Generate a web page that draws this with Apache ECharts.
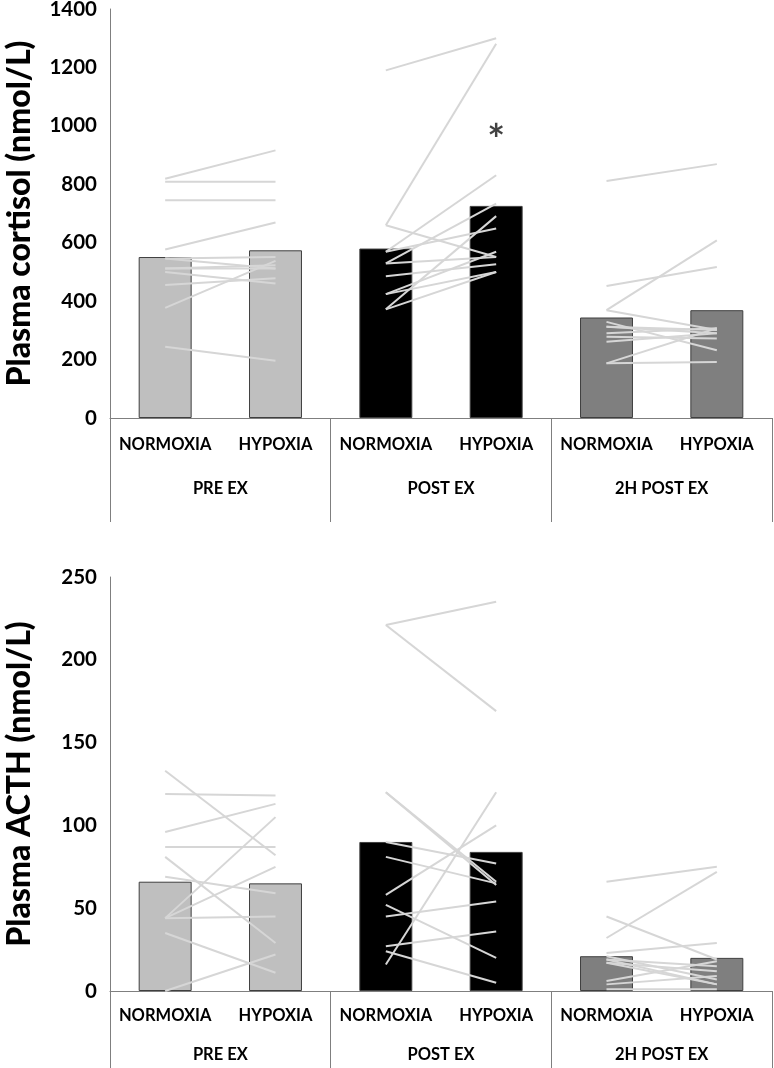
<!DOCTYPE html>
<html>
<head>
<meta charset="utf-8">
<script src="https://cdn.jsdelivr.net/npm/echarts@6/dist/echarts.min.js"></script>
<style>
html,body{margin:0;padding:0;background:#fff;}
#chart{width:774px;height:1068px;}
</style>
</head>
<body>
<div id="chart"></div>
<script>
// ---- data ----
const categories = ['NORMOXIA', 'HYPOXIA', 'NORMOXIA', 'HYPOXIA', 'NORMOXIA', 'HYPOXIA'];
const groups = ['PRE EX', 'POST EX', '2H POST EX'];
const cortisolTicks = [0, 200, 400, 600, 800, 1000, 1200, 1400];
const acthTicks = [0, 50, 100, 150, 200, 250];

const cortisolMeans = [551, 574, 580, 726, 344, 369];
const acthMeans = [66, 65, 90, 84, 21, 20];
const significance = [{ cat: 3, value: 945, text: '*' }];

// individual subjects: normoxia (N) -> hypoxia (H) per time point
const cortisolPreN  = [819, 809, 745, 577, 546, 546, 512, 512, 500, 455, 377, 244];
const cortisolPreH  = [916, 809, 745, 669, 551, 512, 523, 512, 460, 478, 538, 196];
const cortisolPostN = [1190, 660, 660, 569, 569, 529, 529, 485, 424, 424, 372, 372];
const cortisolPostH = [1300, 1281, 551, 831, 649, 734, 551, 526, 569, 500, 691, 500];
const cortisol2hN   = [811, 452, 369, 369, 329, 312, 312, 290, 278, 261, 187, 187];
const cortisol2hH   = [869, 517, 608, 301, 232, 301, 290, 307, 272, 290, 307, 192];

const acthPreN  = [133, 119, 96, 87, 81, 69, 44, 44, 44, 35, 0];
const acthPreH  = [82, 118, 113, 87, 29, 59, 105, 75, 45, 11, 22];
const acthPostN = [221, 221, 120, 120, 90, 81, 58, 52, 45, 27, 24, 16];
const acthPostH = [235, 169, 64, 66, 77, 65, 100, 20, 54, 36, 5, 120];
const acth2hN   = [66, 45, 32, 23, 21, 19, 17, 17, 6, 4, 1, 19];
const acth2hH   = [75, 19, 72, 29, 7, 15, 4, 12, 18, 9, 1, 4];

// ---- styles ----
const FONT = 'Lato';
const groupColors = ['#bfbfbf', '#000000', '#7f7f7f'];
const subjColor = '#d6d6d6';
const axisGrey = '#7f7f7f';

function subjectSeries(gridIdx, sets) {
  const out = [];
  sets.forEach(function (s, g) {
    for (let i = 0; i < s[0].length; i++) {
      out.push({
        type: 'line',
        xAxisIndex: gridIdx * 2,
        yAxisIndex: gridIdx,
        data: [[2 * g, s[0][i]], [2 * g + 1, s[1][i]]],
        symbol: 'none',
        silent: true,
        z: 5,
        lineStyle: { color: subjColor, width: 2 },
        animation: false
      });
    }
  });
  return out;
}

function barSeries(gridIdx, means) {
  return {
    type: 'bar',
    xAxisIndex: gridIdx * 2,
    yAxisIndex: gridIdx,
    barWidth: '48%',
    z: 2,
    data: means.map(function (v, i) {
      return { value: v, itemStyle: { color: groupColors[Math.floor(i / 2)] } };
    }),
    itemStyle: { borderColor: '#3f3f3f', borderWidth: 1 },
    animation: false
  };
}

function xAxes(gridIdx, labelMargin, groupMargin) {
  return [
    {
      type: 'category', gridIndex: gridIdx, data: categories, position: 'bottom',
      axisLine: { show: true, lineStyle: { color: axisGrey, width: 1 } },
      axisTick: { show: false },
      axisLabel: { interval: 0, margin: labelMargin, color: '#000', fontFamily: FONT, fontWeight: 'bold', fontSize: 16.5 },
      splitLine: { show: false }
    },
    {
      type: 'category', gridIndex: gridIdx, data: groups, position: 'bottom',
      axisLine: { show: false },
      axisTick: { show: true, length: 104, lineStyle: { color: axisGrey, width: 1 } },
      axisLabel: { interval: 0, margin: groupMargin, color: '#000', fontFamily: FONT, fontWeight: 'bold', fontSize: 16.5 },
      splitLine: { show: false }
    }
  ];
}

function yAxis(gridIdx, ticks, name) {
  return {
    type: 'value', gridIndex: gridIdx,
    min: ticks[0], max: ticks[ticks.length - 1], interval: ticks[1] - ticks[0],
    name: name, nameLocation: 'middle', nameGap: 74,
    nameTextStyle: { fontFamily: FONT, fontWeight: 900, fontSize: 32, color: '#000' },
    axisLine: { show: true, lineStyle: { color: axisGrey, width: 1 } },
    axisTick: { show: false },
    splitLine: { show: false },
    axisLabel: {
      margin: 13, color: '#000', fontFamily: FONT, fontWeight: 'bold', fontSize: 20.5,
      formatter: function (v) { return String(v); }
    }
  };
}

const chart = echarts.init(document.getElementById('chart'), null, { renderer: 'canvas' });

const series = [
  barSeries(0, cortisolMeans),
  barSeries(1, acthMeans)
]
  .concat(subjectSeries(0, [[cortisolPreN, cortisolPreH], [cortisolPostN, cortisolPostH], [cortisol2hN, cortisol2hH]]))
  .concat(subjectSeries(1, [[acthPreN, acthPreH], [acthPostN, acthPostH], [acth2hN, acth2hH]]))
  .concat([{
    type: 'scatter', xAxisIndex: 0, yAxisIndex: 0, symbolSize: 2,
    itemStyle: { color: 'rgba(0,0,0,0)' }, z: 10, silent: true, animation: false,
    data: significance.map(function (s) { return [s.cat, s.value]; }),
    label: {
      show: true, position: 'inside', color: '#111', fontFamily: FONT, fontWeight: 'bold', fontSize: 42,
      formatter: function (p) { return significance[p.dataIndex].text; }
    }
  }]);

chart.setOption({
  backgroundColor: '#ffffff',
  animation: false,
  grid: [
    { left: 110, right: 2, top: 9, height: 409, outerBoundsMode: 'none', containLabel: false },
    { left: 110, right: 2, top: 577, height: 414, outerBoundsMode: 'none', containLabel: false }
  ],
  xAxis: xAxes(0, 18, 62).concat(xAxes(1, 16, 55)),
  yAxis: [
    yAxis(0, cortisolTicks, 'Plasma cortisol (nmol/L)'),
    yAxis(1, acthTicks, 'Plasma ACTH (nmol/L)')
  ],
  series: series
});
</script>
</body>
</html>
